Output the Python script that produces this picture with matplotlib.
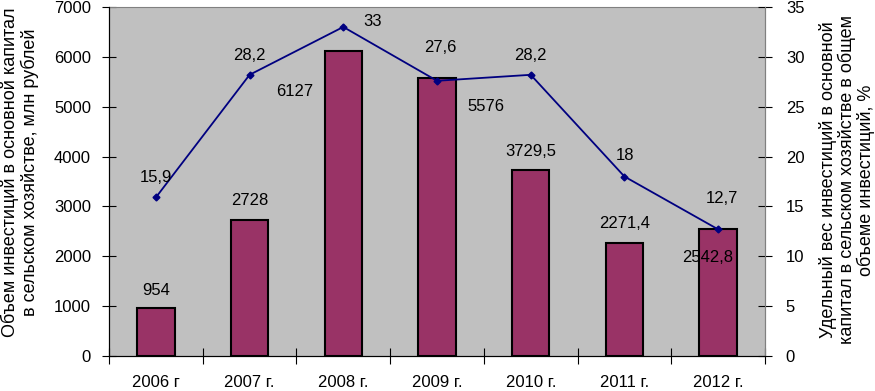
import numpy as np
import matplotlib
matplotlib.use("Agg")
import matplotlib.pyplot as plt

plt.rcParams['font.family'] = ['Liberation Sans', 'DejaVu Sans']

# данные
years = ['2006 г', '2007 г.', '2008 г.', '2009 г.', '2010 г.', '2011 г.', '2012 г.']
invest = [954, 2728, 6127, 5576, 3729.5, 2271.4, 2542.8]
invest_labels = ['954', '2728', '6127', '5576', '3729,5', '2271,4', '2542,8']
share = [15.9, 28.2, 33, 27.6, 28.2, 18, 12.7]
share_labels = ['15,9', '28,2', '33', '27,6', '28,2', '18', '12,7']

# смещения подписей (пиксели)
bar_off = [(0, 18), (0, 19), (-49, -41), (49, -29), (0, 19), (0, 19), (-11, -28)]
line_off = [(0, 20), (0, 19), (29, 5), (3, 33), (0, 19), (1, 21), (4, 31)]

fig = plt.figure(figsize=(8.75, 3.91), dpi=100)
ax = fig.add_axes([109/875, 1-356/391, (765-109)/875, (356-7)/391])
ax.set_facecolor('#C0C0C0')

x = np.arange(len(years))
ax.bar(x, invest, width=0.4, color='#993366', edgecolor='black', linewidth=1.5, zorder=2)
ax.set_xlim(-0.5, len(years) - 0.5)
ax.set_ylim(0, 7000)
ax.set_yticks(range(0, 7001, 1000))

ax.set_xticks(np.arange(-0.5, len(years), 1))
ax.set_xticklabels([])
ax.set_xticks(x, minor=True)
ax.set_xticklabels(years, minor=True)
ax.tick_params(axis='x', which='major', direction='inout', length=12, width=0.8)
ax.tick_params(axis='x', which='minor', length=0, pad=14, labelsize=12)
ax.tick_params(axis='y', direction='inout', length=10, width=0.8, labelsize=12, pad=8)

for s in ['top', 'right']:
    ax.spines[s].set_color('#808080')

fig.text(20/875, 1-172/391,
         'Объем инвестиций в основной капитал\nв сельском хозяйстве, млн рублей',
         fontsize=13, rotation=90, ha='center', va='center', linespacing=1.15)

for xi, v, lab, off in zip(x, invest, invest_labels, bar_off):
    ax.annotate(lab, (xi, v), xytext=off, textcoords='offset pixels',
                ha='center', va='center', fontsize=12, zorder=5)

ax2 = ax.twinx()
ax2.plot(x, share, color='#000080', lw=1.3, marker='D', markersize=3.5)
ax2.set_ylim(0, 35)
ax2.set_yticks(range(0, 36, 5))
ax2.tick_params(axis='y', direction='inout', length=10, width=0.8, labelsize=12, pad=10)
ax2.spines['right'].set_color('#808080')
ax2.spines['top'].set_visible(False)

fig.text(847/875, 1-180/391,
         'Удельный вес инвестиций в основной\nкапитал в сельском хозяйстве в общем\nобъеме инвестиций, %',
         fontsize=13, rotation=90, ha='center', va='center', linespacing=1.05)

for xi, v, lab, off in zip(x, share, share_labels, line_off):
    ax2.annotate(lab, (xi, v), xytext=off, textcoords='offset pixels',
                 ha='center', va='center', fontsize=12)

fig.savefig('out.png', dpi=100)
